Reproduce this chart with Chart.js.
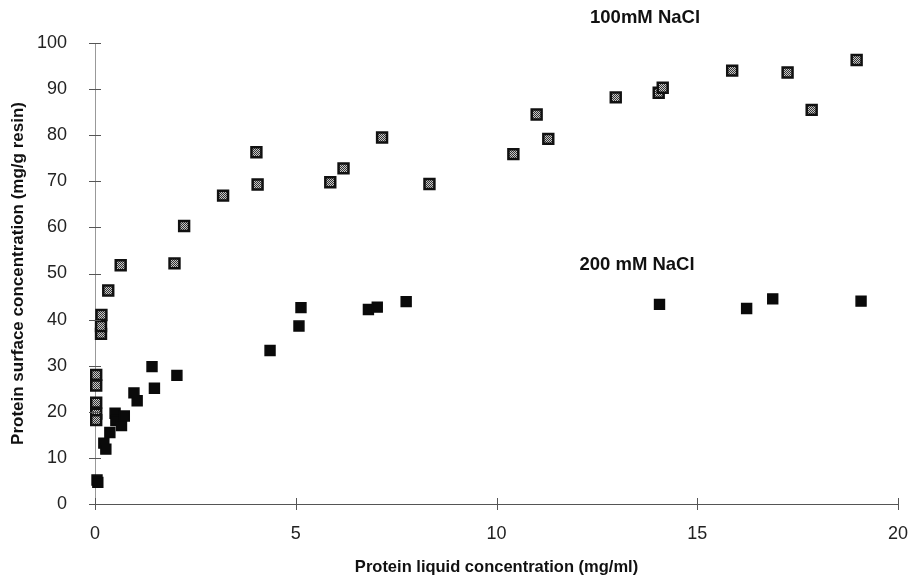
<!DOCTYPE html>
<html>
<head>
<meta charset="utf-8">
<script src="https://cdn.jsdelivr.net/npm/chart.js@4.4.1/dist/chart.umd.min.js"></script>
<style>
  html, body { margin: 0; padding: 0; background: #fff; }
  #wrap { width: 908px; height: 577px; }
</style>
</head>
<body>
<div id="wrap"><canvas id="c" width="908" height="577"></canvas></div>
<script>
// 100 mM NaCl (grey checked squares)
const x100 = [0.03, 0.03, 0.03, 0.03, 0.03, 0.15, 0.15, 0.16, 0.33, 0.64, 1.98, 2.22, 3.19, 4.02, 4.05,
              5.86, 6.19, 7.15, 8.33, 10.42, 11.0, 11.29, 12.97, 14.04, 14.14, 15.87, 17.25, 17.85, 18.97];
const y100 = [28.0, 25.7, 22.0, 19.6, 18.2, 36.9, 38.6, 41.0, 46.3, 51.8, 52.2, 60.3, 66.9, 76.3, 69.3,
              69.8, 72.8, 79.5, 69.4, 75.9, 84.5, 79.2, 88.2, 89.2, 90.3, 94.0, 93.6, 85.5, 96.3];

// 200 mM NaCl (black squares)
const x200 = [0.05, 0.07, 0.22, 0.27, 0.37, 0.5, 0.52, 0.66, 0.73, 0.97, 1.05, 1.42, 1.48, 2.04,
              4.36, 5.08, 5.13, 6.81, 7.03, 7.75, 14.06, 16.23, 16.88, 19.08];
const y200 = [5.2, 4.7, 13.2, 11.9, 15.5, 19.7, 18.1, 17.0, 19.1, 24.1, 22.4, 29.8, 25.1, 27.9,
              33.3, 38.6, 42.6, 42.2, 42.7, 43.9, 43.3, 42.4, 44.5, 44.0];

const xTicks = [0, 5, 10, 15, 20];
const yTicks = [0, 10, 20, 30, 40, 50, 60, 70, 80, 90, 100];

const labels = [
  { text: '100mM NaCl', x: 13.7, y: 105.4 },
  { text: '200 mM NaCl', x: 13.5, y: 51.8 }
];

function pts(xs, ys) {
  return xs.map((x, i) => ({ x: x, y: ys[i] }));
}

// dithered grey fill like the scanned markers
const pc = document.createElement('canvas');
pc.width = 2; pc.height = 2;
const pctx = pc.getContext('2d');
pctx.fillStyle = '#c8c8c8'; pctx.fillRect(0, 0, 2, 2);
pctx.fillStyle = '#333'; pctx.fillRect(0, 0, 1, 1); pctx.fillRect(1, 1, 1, 1);
const grey = document.getElementById('c').getContext('2d').createPattern(pc, 'repeat');

const font = 'Liberation Sans, Arial, sans-serif';

// ticks crossing the axis lines + text labels
const extras = {
  id: 'extras',
  afterDraw(chart) {
    const ctx = chart.ctx;
    const xs = chart.scales.x, ys = chart.scales.y;
    const area = chart.chartArea;
    ctx.save();
    ctx.strokeStyle = '#555';
    ctx.lineWidth = 1;
    ctx.beginPath();
    yTicks.forEach(v => {
      const py = Math.round(ys.getPixelForValue(v)) + 0.5;
      ctx.moveTo(area.left - 6, py); ctx.lineTo(area.left + 6, py);
    });
    xTicks.forEach(v => {
      const px = Math.round(xs.getPixelForValue(v)) + 0.5;
      ctx.moveTo(px, area.bottom - 6); ctx.lineTo(px, area.bottom + 6);
    });
    ctx.stroke();
    ctx.fillStyle = '#111';
    ctx.font = 'bold 18.5px ' + font;
    ctx.textAlign = 'center';
    ctx.textBaseline = 'middle';
    labels.forEach(l => {
      ctx.fillText(l.text, xs.getPixelForValue(l.x), ys.getPixelForValue(l.y));
    });
    ctx.restore();
  }
};

new Chart(document.getElementById('c').getContext('2d'), {
  type: 'scatter',
  data: {
    datasets: [
      {
        label: '100mM NaCl',
        data: pts(x100, y100),
        clip: false,
        pointStyle: 'rect',
        pointRadius: 7,
        pointHoverRadius: 7,
        backgroundColor: grey,
        borderColor: '#111',
        borderWidth: 2.5
      },
      {
        label: '200 mM NaCl',
        data: pts(x200, y200),
        clip: false,
        pointStyle: 'rect',
        pointRadius: 7,
        pointHoverRadius: 7,
        backgroundColor: '#0a0a0a',
        borderColor: '#0a0a0a',
        borderWidth: 1.5
      }
    ]
  },
  options: {
    responsive: false,
    animation: false,
    layout: { padding: { top: 43, right: 10, left: 8, bottom: 0 } },
    plugins: {
      legend: { display: false },
      tooltip: { enabled: false }
    },
    scales: {
      x: {
        type: 'linear',
        min: 0, max: 20,
        afterBuildTicks: s => { s.ticks = xTicks.map(v => ({ value: v })); },
        afterFit: s => { s.height = 73; s.paddingLeft = 0; s.paddingRight = 0; },
        border: { display: true, color: '#555', width: 1 },
        grid: { display: false },
        ticks: { color: '#222', font: { family: font, size: 18 }, padding: 11 },
        title: {
          display: true,
          text: 'Protein liquid concentration (mg/ml)',
          color: '#111',
          font: { family: font, size: 16.5, weight: 'bold' },
          padding: { top: 10, bottom: 0 }
        }
      },
      y: {
        type: 'linear',
        min: 0, max: 100,
        afterBuildTicks: s => { s.ticks = yTicks.map(v => ({ value: v })); },
        afterFit: s => { s.width = 87; },
        border: { display: true, color: '#999', width: 1 },
        grid: { display: false },
        ticks: { color: '#222', font: { family: font, size: 18 }, padding: 20 },
        title: {
          display: true,
          text: 'Protein surface concentration (mg/g resin)',
          color: '#111',
          font: { family: font, size: 17, weight: 'bold' },
          padding: { top: 0, bottom: 4 }
        }
      }
    }
  },
  plugins: [extras]
});
</script>
</body>
</html>
